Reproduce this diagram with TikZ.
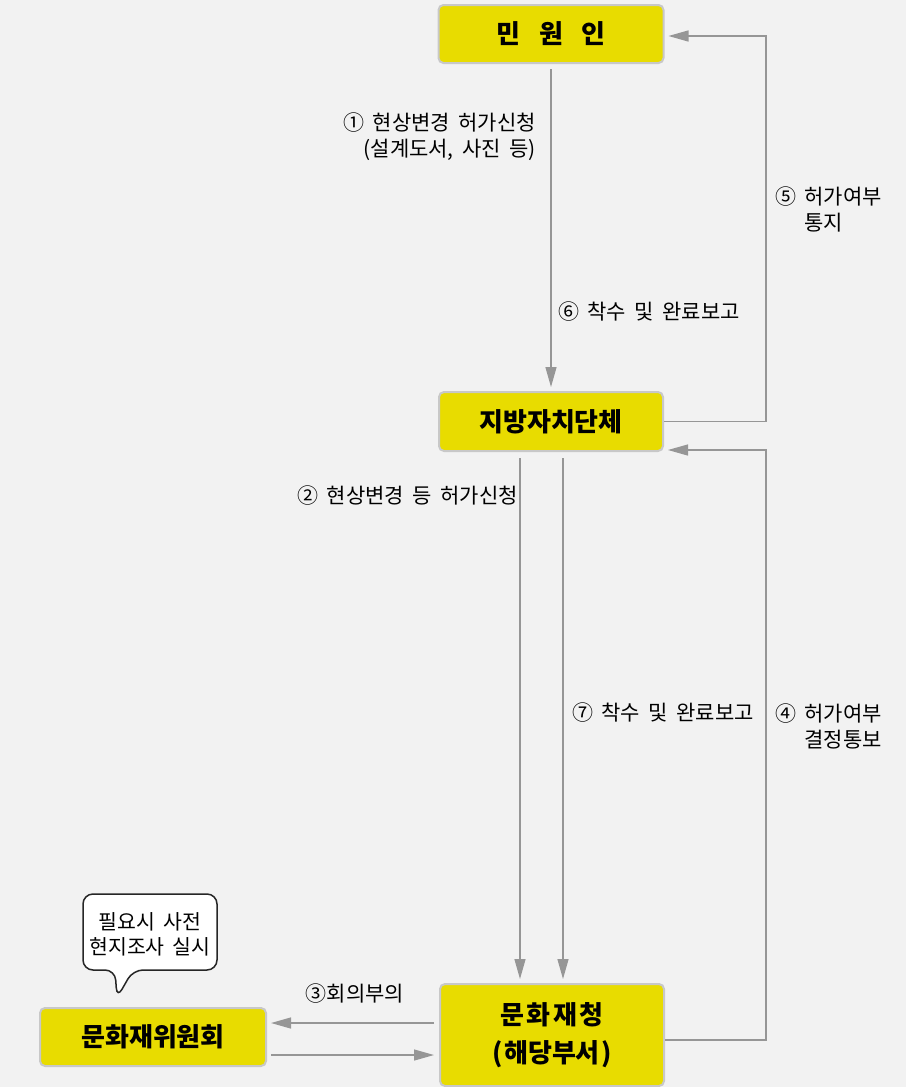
\documentclass[tikz,border=0pt]{standalone}
\usepackage{fontspec}
\setmainfont{Noto Sans CJK KR}
\newfontfamily\labfont[WordSpace=1.8]{Noto Sans CJK KR}
\usetikzlibrary{arrows.meta}
\definecolor{bg}{HTML}{F2F2F2}
\definecolor{boxyellow}{HTML}{E8DC00}
\definecolor{boxline}{HTML}{C8C8C8}
\definecolor{arrowgray}{HTML}{969696}
\begin{document}
\begin{tikzpicture}[x=1pt,y=-1pt,
  box/.style={draw=boxline, line width=2pt, fill=boxyellow, rounded corners=5pt,
    font=\fontsize{26}{38}\selectfont\bfseries, inner sep=0pt, align=center},
  arr/.style={draw=arrowgray, line width=1.3pt, -{Triangle[length=20pt,width=11pt]}},
  lab/.style={font=\labfont\fontsize{21}{26}\selectfont, inner sep=0pt},
  callout/.style={draw=black!85, line width=1.5pt, fill=white, rounded corners=10pt}]
\fill[bg] (0,0) rectangle (906,1087);
\useasboundingbox (0,0) rectangle (906,1087);

% boxes
\node[box, minimum width=225pt, minimum height=58pt] (minwon) at (551,34) {민\hspace{0.72em}원\hspace{0.72em}인};
\node[box, minimum width=224pt, minimum height=59pt] (jibang) at (551,421.5) {지방자치단체};
\node[box, minimum width=224pt, minimum height=102pt] (munhwa) at (552,1035) {문\hspace{0.1em}화\hspace{0.1em}재\hspace{0.1em}청\\(\hspace{0.05em}해당부서\hspace{0.05em})};
\node[box, minimum width=226pt, minimum height=58pt] (wiwon) at (153,1037) {문화재위원회};

% callout
\draw[callout] (117,998) -- (115,970) -- (83,970) -- (83,894) -- (217,894) -- (217,970) -- (133,970) -- cycle;
\node[lab, align=center, font=\labfont\fontsize{20.5}{25}\selectfont] (note) at (150,934.5) {필요시 사전\\현지조사 실시};

% rail coordinate
\coordinate (rail) at (766,0);

% 1: minwon -> jibang
\draw[arr] ([yshift=-5pt]minwon.south) -- ([yshift=4pt]jibang.north);
% 5: jibang -> minwon
\coordinate (t5) at ([xshift=4pt,yshift=-2pt]minwon.east);
\draw[arr] (jibang.east) -- (jibang.east -| rail) |- (t5);
% 2 and 7: jibang -> munhwa
\coordinate (s2) at ([xshift=-31pt,yshift=-6pt]jibang.south);
\coordinate (e2) at (s2 |- munhwa.north);
\draw[arr] (s2) -- ([yshift=4pt]e2);
\coordinate (s7) at ([xshift=12pt,yshift=-6pt]jibang.south);
\coordinate (e7) at (s7 |- munhwa.north);
\draw[arr] (s7) -- ([yshift=4pt]e7);
% 4: munhwa -> jibang
\coordinate (s4) at ([yshift=-5pt]munhwa.east);
\coordinate (t4) at ([xshift=4pt,yshift=2pt]jibang.south east);
\draw[arr] (s4) -- (s4 -| rail) |- (t4);
% 3: munhwa -> wiwon and back
\coordinate (s3) at ([xshift=-5pt,yshift=12pt]munhwa.west);
\coordinate (e3) at (s3 -| wiwon.east);
\draw[arr] (s3) -- ([xshift=4pt]e3);
\coordinate (s8) at ([xshift=4pt,yshift=-18pt]wiwon.east);
\coordinate (e8) at (s8 -| munhwa.west);
\draw[arr] (s8) -- ([xshift=-5pt]e8);

% labels
\node[lab, align=right, anchor=east] (l1) at (536,137) {① 현상변경 허가신청\\(설계도서, 사진 등)};
\node[lab, anchor=west] (l6) at (558,312) {⑥ 착수 및 완료보고};
\node[lab, align=left, anchor=west] (l5) at (775,210) {⑤ 허가여부\\\phantom{⑤ }통지};
\node[lab, anchor=east] (l2) at (518,496) {② 현상변경 등 허가신청};
\node[lab, anchor=west] (l7) at (572,713) {⑦ 착수 및 완료보고};
\node[lab, align=left, anchor=west] (l4) at (775,727) {④ 허가여부\\\phantom{④ }결정통보};
\node[lab] (l3) at (355,994) {③회의부의};
\end{tikzpicture}
\end{document}
